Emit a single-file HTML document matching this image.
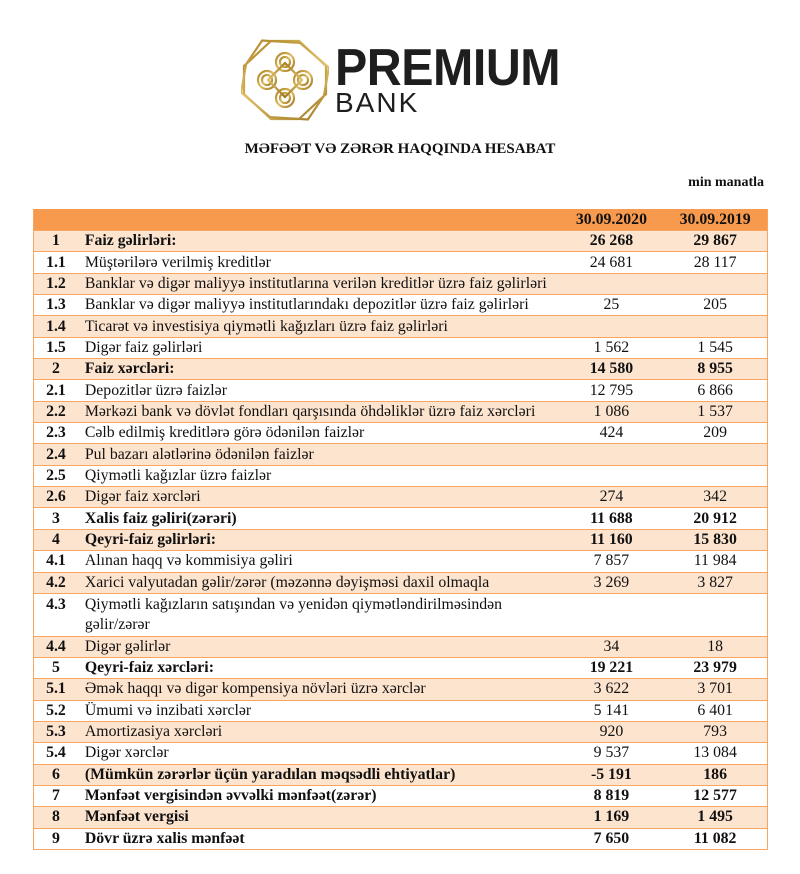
<!DOCTYPE html>
<html><head><meta charset="utf-8"><style>
body{margin:0;width:800px;height:874px;background:#fff;position:relative;font-family:"Liberation Serif",serif;color:#111;overflow:hidden}
.t{position:absolute;left:33px;width:735px;top:209px;border-left:1.5px solid #f7a560;border-right:1.5px solid #f7a560;border-bottom:1.5px solid #f7a560;box-sizing:border-box}
.r{display:flex;height:21.35px;box-sizing:border-box;border-top:1.5px solid #f7a560;font-size:15.8px;align-items:center}
.r.h{height:21px;background:#f89a4e;border-top:none;font-weight:bold}
.r.p{background:#fde4cf}
.r.d{height:42.7px;align-items:flex-start;padding-top:1px;line-height:20px}
.n{width:44px;text-align:center;font-weight:bold}
.s{width:483px;padding-left:7px;box-sizing:border-box}
.a{width:104px;text-align:center}
.b{width:104px;text-align:center}
.B .s,.B .a,.B .b{font-weight:bold}
</style></head><body>
<svg style="position:absolute;left:241px;top:38px" width="88" height="84" viewBox="0 0 88 84">
<defs><linearGradient id="g" x1="0" y1="0" x2="1" y2="1"><stop offset="0" stop-color="#a8801e"/><stop offset=".5" stop-color="#e0c06a"/><stop offset="1" stop-color="#9c761c"/></linearGradient></defs>
<g fill="none" stroke="url(#g)" stroke-width="2.2">
<polygon points="30,3 58,3 85,28 85,56 58,81 30,81 3,56 3,28"/>
<polygon points="44,2 80,14 86,42 80,70 44,82 8,70 2,42 8,14" transform="rotate(22 44 42)"/>
<circle cx="44" cy="24" r="9"/><circle cx="44" cy="60" r="9"/><circle cx="26" cy="42" r="9"/><circle cx="62" cy="42" r="9"/>
<circle cx="44" cy="24" r="5"/><circle cx="44" cy="60" r="5"/><circle cx="26" cy="42" r="5"/><circle cx="62" cy="42" r="5"/>
<rect x="32" y="30" width="24" height="24" transform="rotate(45 44 42)"/>
</g></svg>
<div style="position:absolute;left:335px;top:38px;font-family:'Liberation Sans',sans-serif;font-weight:bold;font-size:52px;letter-spacing:-0.5px;color:#1e1e1e;line-height:60px;transform:scaleX(0.93);transform-origin:0 0">PREMIUM</div>
<div style="position:absolute;left:335px;top:88px;font-family:'Liberation Sans',sans-serif;font-size:28px;letter-spacing:2px;color:#1e1e1e;line-height:30px">BANK</div>
<div style="position:absolute;left:0;width:800px;top:141px;text-align:center;font-weight:bold;font-size:15px">MƏFƏƏT VƏ ZƏRƏR HAQQINDA HESABAT</div>
<div style="position:absolute;right:36px;top:175px;font-weight:bold;font-size:14px">min manatla</div>
<div class="t">
<div class="r h"><div class="n"></div><div class="s"></div><div class="a">30.09.2020</div><div class="b">30.09.2019</div></div>
<div class="r p B"><div class="n">1</div><div class="s">Faiz gəlirləri:</div><div class="a">26 268</div><div class="b">29 867</div></div>
<div class="r"><div class="n">1.1</div><div class="s">Müştərilərə verilmiş kreditlər</div><div class="a">24 681</div><div class="b">28 117</div></div>
<div class="r p"><div class="n">1.2</div><div class="s">Banklar və digər maliyyə institutlarına verilən kreditlər üzrə faiz gəlirləri</div><div class="a"></div><div class="b"></div></div>
<div class="r"><div class="n">1.3</div><div class="s">Banklar və digər maliyyə institutlarındakı depozitlər üzrə faiz gəlirləri</div><div class="a">25</div><div class="b">205</div></div>
<div class="r p"><div class="n">1.4</div><div class="s">Ticarət və investisiya qiymətli kağızları üzrə faiz gəlirləri</div><div class="a"></div><div class="b"></div></div>
<div class="r"><div class="n">1.5</div><div class="s">Digər faiz gəlirləri</div><div class="a">1 562</div><div class="b">1 545</div></div>
<div class="r p B"><div class="n">2</div><div class="s">Faiz xərcləri:</div><div class="a">14 580</div><div class="b">8 955</div></div>
<div class="r"><div class="n">2.1</div><div class="s">Depozitlər üzrə faizlər</div><div class="a">12 795</div><div class="b">6 866</div></div>
<div class="r p"><div class="n">2.2</div><div class="s">Mərkəzi bank və dövlət fondları qarşısında öhdəliklər üzrə faiz xərcləri</div><div class="a">1 086</div><div class="b">1 537</div></div>
<div class="r"><div class="n">2.3</div><div class="s">Cəlb edilmiş kreditlərə görə ödənilən faizlər</div><div class="a">424</div><div class="b">209</div></div>
<div class="r p"><div class="n">2.4</div><div class="s">Pul bazarı alətlərinə ödənilən faizlər</div><div class="a"></div><div class="b"></div></div>
<div class="r"><div class="n">2.5</div><div class="s">Qiymətli kağızlar üzrə faizlər</div><div class="a"></div><div class="b"></div></div>
<div class="r p"><div class="n">2.6</div><div class="s">Digər faiz xərcləri</div><div class="a">274</div><div class="b">342</div></div>
<div class="r B"><div class="n">3</div><div class="s">Xalis faiz gəliri(zərəri)</div><div class="a">11 688</div><div class="b">20 912</div></div>
<div class="r p B"><div class="n">4</div><div class="s">Qeyri-faiz gəlirləri:</div><div class="a">11 160</div><div class="b">15 830</div></div>
<div class="r"><div class="n">4.1</div><div class="s">Alınan haqq və kommisiya gəliri</div><div class="a">7 857</div><div class="b">11 984</div></div>
<div class="r p"><div class="n">4.2</div><div class="s">Xarici valyutadan gəlir/zərər (məzənnə dəyişməsi daxil olmaqla</div><div class="a">3 269</div><div class="b">3 827</div></div>
<div class="r d"><div class="n">4.3</div><div class="s">Qiymətli kağızların satışından və yenidən qiymətləndirilməsindən<br>gəlir/zərər</div><div class="a"></div><div class="b"></div></div>
<div class="r p"><div class="n">4.4</div><div class="s">Digər gəlirlər</div><div class="a">34</div><div class="b">18</div></div>
<div class="r B"><div class="n">5</div><div class="s">Qeyri-faiz xərcləri:</div><div class="a">19 221</div><div class="b">23 979</div></div>
<div class="r p"><div class="n">5.1</div><div class="s">Əmək haqqı və digər kompensiya növləri üzrə xərclər</div><div class="a">3 622</div><div class="b">3 701</div></div>
<div class="r"><div class="n">5.2</div><div class="s">Ümumi və inzibati xərclər</div><div class="a">5 141</div><div class="b">6 401</div></div>
<div class="r p"><div class="n">5.3</div><div class="s">Amortizasiya xərcləri</div><div class="a">920</div><div class="b">793</div></div>
<div class="r"><div class="n">5.4</div><div class="s">Digər xərclər</div><div class="a">9 537</div><div class="b">13 084</div></div>
<div class="r p B"><div class="n">6</div><div class="s">(Mümkün zərərlər üçün yaradılan məqsədli ehtiyatlar)</div><div class="a">-5 191</div><div class="b">186</div></div>
<div class="r B"><div class="n">7</div><div class="s">Mənfəət vergisindən əvvəlki mənfəət(zərər)</div><div class="a">8 819</div><div class="b">12 577</div></div>
<div class="r p B"><div class="n">8</div><div class="s">Mənfəət vergisi</div><div class="a">1 169</div><div class="b">1 495</div></div>
<div class="r B"><div class="n">9</div><div class="s">Dövr üzrə xalis mənfəət</div><div class="a">7 650</div><div class="b">11 082</div></div>
</div>
</body></html>
